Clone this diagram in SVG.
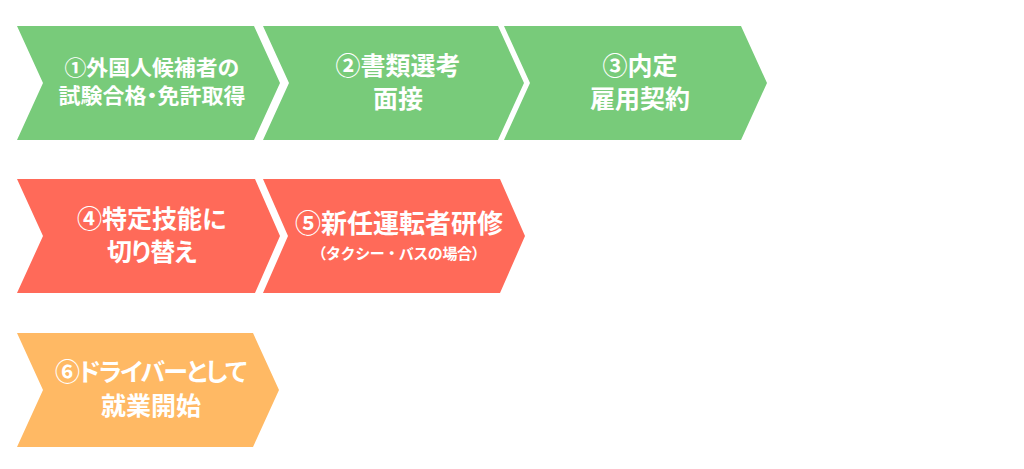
<svg xmlns="http://www.w3.org/2000/svg" width="1024" height="469" viewBox="0 0 1024 469">
<style>
.g{fill:#78CB7A}
.r{fill:#FF6A59}
.o{fill:#FFB964}
text{font-family:"Noto Sans CJK JP","Noto Sans",sans-serif;font-weight:bold;fill:#FFFFFF;text-anchor:middle}
.p{font-feature-settings:"palt"}
</style>
<rect width="1024" height="469" fill="#FFFFFF"/>
<g id="connectors"></g>
<g id="step1">
<polygon class="g" points="17,26 254,26 280,83 254,140 17,140 43,83"/>
<text x="152" y="75" font-size="21" textLength="175" lengthAdjust="spacingAndGlyphs">①外国人候補者の</text>
<text class="p" x="152" y="103" font-size="21" textLength="187" lengthAdjust="spacingAndGlyphs">試験合格・免許取得</text>
</g>
<g id="step2">
<polygon class="g" points="263,26 498,26 524,83 498,140 263,140 289,83"/>
<text x="398" y="75" font-size="25">②書類選考</text>
<text x="398" y="108" font-size="25">面接</text>
</g>
<g id="step3">
<polygon class="g" points="504,26 741,26 767,83 741,140 504,140 530,83"/>
<text x="640" y="75" font-size="25">③内定</text>
<text x="640" y="108" font-size="25">雇用契約</text>
</g>
<g id="step4">
<polygon class="r" points="17,179 255,179 280,236 255,293 17,293 43,236"/>
<text x="152" y="228" font-size="25">④特定技能に</text>
<text class="p" x="152" y="261" font-size="25" textLength="90" lengthAdjust="spacing">切り替え</text>
</g>
<g id="step5">
<polygon class="r" points="263,179 500,179 525,236 500,293 263,293 288,236"/>
<text x="399" y="233" font-size="26">⑤新任運転者研修</text>
<text x="399" y="259" font-size="15" textLength="175" lengthAdjust="spacing">（タクシー・バスの場合）</text>
</g>
<g id="step6">
<polygon class="o" points="17,333 253,333 279,390 253,447 17,447 43,390"/>
<text class="p" x="151" y="381" font-size="25" textLength="192" lengthAdjust="spacing">⑥ドライバーとして</text>
<text x="151" y="415" font-size="25">就業開始</text>
</g>
</svg>
